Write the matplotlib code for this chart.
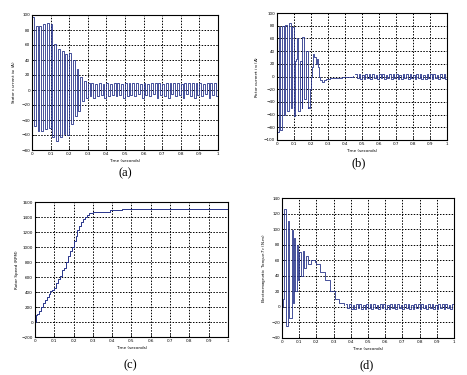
"""
Recria a figura com 4 paineis (a)-(d): correntes, velocidade e torque
"""

import numpy as np
import matplotlib
matplotlib.use("Agg")
import matplotlib.pyplot as plt

LINHA = '#27348b'

# (a) corrente do estator - picos alternados a cada 0.01 s
t_a = np.round(np.arange(0, 1.0001, 0.01), 2)
i_sa = [97, -48, 85, -55, 85, -55, 88, -52, 90, -50,
        88, -62, 62, -68, 55, -62, 52, -58, 48, -60,
        50, -45, 40, -35, 28, -28, 18, -15, 12, -10,
        10, -8, 10, -10, 8, -8, 10, -6, 8, -10,
        10, -8, 8, -6, 10, -8, 10, -6, 8, -10,
        10, -8, 9, -6, 10, -8, 10, -5, 8, -10,
        10, -6, 8, -8, 10, -5, 9, -10, 10, -6,
        8, -8, 10, -10, 9, -5, 10, -8, 10, -6,
        8, -10, 10, -5, 10, -8, 9, -10, 10, -6,
        10, -8, 8, -5, 10, -10, 10, -6, 9, -8, 0]

# (b) corrente do rotor
t_b = [0.000, 0.010, 0.020, 0.030, 0.040, 0.050, 0.060, 0.070, 0.080, 0.090,
       0.100, 0.105, 0.110, 0.118, 0.125, 0.135, 0.145, 0.150, 0.160, 0.170,
       0.180, 0.185, 0.190, 0.195, 0.200, 0.208, 0.215, 0.220, 0.228, 0.235,
       0.240, 0.248, 0.255, 0.265, 0.275, 0.290, 0.310, 0.340, 0.380, 0.420,
       0.450]
i_ra = [-88, 78, -85, 80, -60, 82, -55, 84, -50, 78,
        -62, 25, 28, 60, -55, 25, -50, 62, -35, 40,
        -50, -48, -50, -20, 0, 15, 35, 30, 20, 28,
        15, 0, -5, -8, -6, -4, -3, -2, -1, 0,
        1]
t_b2 = np.round(np.arange(0.46, 1.0001, 0.01), 2)
i_ra2 = [4, -3, 4, -4, 3, -4, 4, -3, 4, -4,
         4, -3, 3, -4, 4, -3, 4, -4, 3, -3,
         4, -4, 4, -3, 4, -4, 3, -4, 4, -3,
         4, -4, 4, -3, 3, -4, 4, -3, 4, -4,
         3, -4, 4, -3, 4, -4, 4, -3, 3, -4,
         4, -3, 4, -4, 3]

# (c) velocidade do rotor (RPM)
t_c = [0.000, 0.005, 0.010, 0.020, 0.030, 0.040, 0.050, 0.060, 0.070, 0.080,
       0.090, 0.100, 0.110, 0.120, 0.130, 0.140, 0.150, 0.160, 0.170, 0.180,
       0.190, 0.200, 0.210, 0.220, 0.230, 0.240, 0.250, 0.260, 0.270, 0.280,
       0.290, 0.300, 0.380, 0.390, 0.450, 1.000]
n_r = [0, 100, 110, 150, 200, 250, 300, 330, 380, 420,
       430, 450, 520, 580, 620, 700, 720, 800, 880, 950,
       1000, 1080, 1150, 1230, 1280, 1330, 1370, 1400, 1430, 1450,
       1460, 1470, 1470, 1500, 1510, 1500]

# (d) torque eletromagnetico
t_d = [0.000, 0.005, 0.013, 0.023, 0.033, 0.043, 0.056, 0.063, 0.070, 0.078,
       0.085, 0.090, 0.100, 0.110, 0.120, 0.130, 0.140, 0.150, 0.170, 0.190,
       0.200, 0.220, 0.250, 0.280, 0.310, 0.330, 0.360]
te = [0, 10, 126, -25, 110, -14, 99, 5, 88, 20,
      80, 35, 70, 40, 72, 50, 65, 55, 60, 58,
      55, 45, 35, 20, 10, 5, 2]
t_d2 = np.round(np.arange(0.37, 1.0001, 0.01), 2)
te2 = [3, -2, 3, -3, 2, -3, 3, -2, 3, -3,
       2, -3, 3, -2, 3, -3, 3, -2, 2, -3,
       3, -2, 3, -3, 2, -3, 3, -2, 3, -3,
       3, -2, 2, -3, 3, -2, 3, -3, 2, -3,
       3, -2, 3, -3, 3, -2, 2, -3, 3, -2,
       3, -3, 2, -3, 3, -2, 3, -3, 3, -2,
       2, -3, 3, -2]

X_TICKS = [0, 0.1, 0.2, 0.3, 0.4, 0.5, 0.6, 0.7, 0.8, 0.9, 1]
X_LABELS = ['0', '0.1', '0.2', '0.3', '0.4', '0.5', '0.6', '0.7', '0.8', '0.9', '1']


def configurar_eixo(ax, yticks, ylabel):
    ax.set_xlim(0, 1)
    ax.set_ylim(yticks[0], yticks[-1])
    ax.set_xticks(X_TICKS)
    ax.set_xticklabels(X_LABELS)
    ax.set_yticks(yticks)
    ax.tick_params(direction='in', labelsize=3, length=2, width=0.5, pad=1.5)
    ax.grid(True, color='black', linestyle=(0, (1.5, 1.5)), linewidth=0.7)
    ax.set_axisbelow(True)
    for s in ax.spines.values():
        s.set_linewidth(0.8)
    ax.set_xlabel('Time (seconds)', fontsize=3, labelpad=2)
    ax.set_ylabel(ylabel, fontsize=3, labelpad=2)


fig = plt.figure(figsize=(4.67, 3.75), dpi=100)

ax_a = fig.add_axes([0.0685, 0.60, 0.398, 0.36])
ax_a.plot(t_a, i_sa, color=LINHA, linewidth=0.6, drawstyle='steps-post')
configurar_eixo(ax_a, list(range(-80, 101, 20)), 'Stator current $i_{sa}$ (A)')

ax_b = fig.add_axes([0.593, 0.627, 0.364, 0.338])
ax_b.plot(t_b, i_ra, color=LINHA, linewidth=0.6, drawstyle='steps-post')
ax_b.plot(t_b2, i_ra2, color=LINHA, linewidth=0.6, drawstyle='steps-post')
configurar_eixo(ax_b, list(range(-100, 101, 20)), 'Rotor current $i_{ra}$ (A)')

ax_c = fig.add_axes([0.075, 0.101, 0.413, 0.36])
ax_c.plot(t_c, n_r, color=LINHA, linewidth=0.7, drawstyle='steps-post')
configurar_eixo(ax_c, list(range(-200, 1601, 200)), 'Rotor Speed (RPM)')

ax_d = fig.add_axes([0.604, 0.099, 0.368, 0.373])
ax_d.plot(t_d, te, color=LINHA, linewidth=0.6, drawstyle='steps-post')
ax_d.plot(t_d2, te2, color=LINHA, linewidth=0.6, drawstyle='steps-post')
configurar_eixo(ax_d, list(range(-40, 141, 20)), 'Electromagnetic Torque $T_e$ (N.m)')

# legendas dos paineis
for x, y, txt in [(0.268, 0.539, '(a)'), (0.769, 0.565, '(b)'),
                  (0.278, 0.027, '(c)'), (0.786, 0.027, '(d)')]:
    fig.text(x, y, txt, ha='center', va='center', fontsize=9,
             family='Liberation Serif')

fig.savefig('out.png', dpi=100)
